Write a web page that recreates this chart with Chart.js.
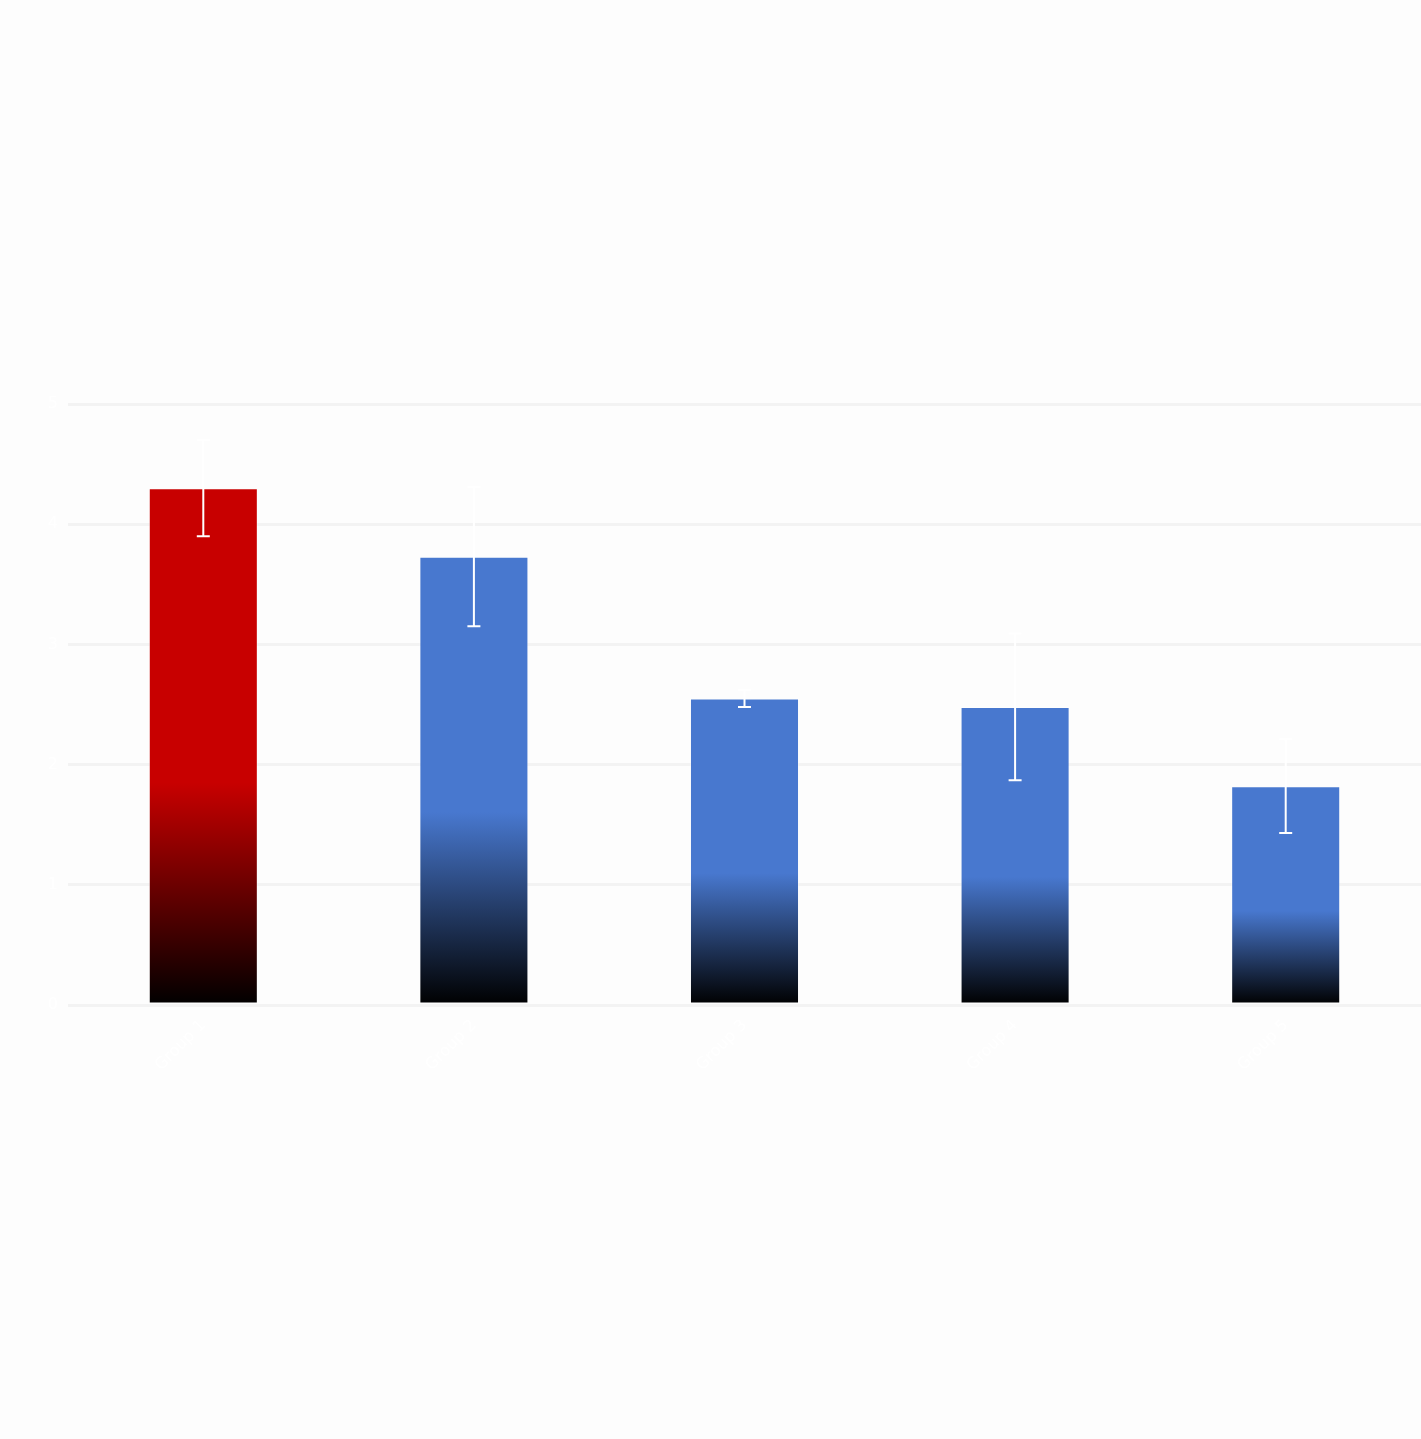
<!DOCTYPE html>
<html>
<head>
<meta charset="utf-8">
<script src="https://cdn.jsdelivr.net/npm/chart.js@4/dist/chart.umd.min.js"></script>
<style>
  html, body { margin: 0; padding: 0; background: #fdfdfd; }
  #wrap { width: 1421px; height: 1439px; }
</style>
</head>
<body>
<div id="wrap"><canvas id="c" width="1421" height="1439"></canvas></div>
<script>
const categories = ["Group 1", "Group 2", "Group 3", "Group 4", "Group 5"];
const values = [4.30, 3.73, 2.55, 2.48, 1.82];
const errors = [0.40, 0.58, 0.07, 0.61, 0.39];
const barColors = ["#c80000", "#4878cf", "#4878cf", "#4878cf", "#4878cf"];
const yTicks = [0, 1, 2, 3, 4, 5];

function gradFor(ctx) {
  const chart = ctx.chart;
  const i = ctx.dataIndex;
  const base = barColors[i];
  if (!chart.chartArea || !chart.scales.y || i === undefined) return base;
  const y = chart.scales.y;
  const bottom = y.getPixelForValue(0);
  const top = y.getPixelForValue(values[i]);
  const stopY = bottom - (bottom - top) * 0.43;
  const g = chart.ctx.createLinearGradient(0, bottom, 0, stopY);
  g.addColorStop(0, "#000000");
  g.addColorStop(1, base);
  return g;
}

const errorBars = {
  id: "errorBars",
  afterDatasetsDraw(chart) {
    const meta = chart.getDatasetMeta(0);
    const y = chart.scales.y;
    const c = chart.ctx;
    c.save();
    c.strokeStyle = "#ffffff";
    c.lineWidth = 2;
    meta.data.forEach((bar, i) => {
      const yHi = y.getPixelForValue(values[i] + errors[i]);
      const yLo = y.getPixelForValue(values[i] - errors[i]);
      const x = bar.x;
      c.beginPath();
      c.moveTo(x, yHi); c.lineTo(x, yLo);
      c.moveTo(x - 6.5, yHi); c.lineTo(x + 6.5, yHi);
      c.moveTo(x - 6.5, yLo); c.lineTo(x + 6.5, yLo);
      c.stroke();
    });
    c.restore();
  }
};

new Chart(document.getElementById("c"), {
  type: "bar",
  data: {
    labels: categories,
    datasets: [{
      data: values,
      backgroundColor: gradFor,
      borderColor: "rgba(255,255,255,0.45)",
      borderWidth: 1,
      borderSkipped: false,
      barPercentage: 0.806,
      categoryPercentage: 0.5
    }]
  },
  options: {
    responsive: false,
    animation: false,
    devicePixelRatio: 1,
    layout: { padding: { top: 404, right: 0, left: 0, bottom: 0 } },
    plugins: { legend: { display: false }, tooltip: { enabled: false } },
    scales: {
      x: {
        grid: { display: false },
        border: { display: false },
        ticks: { color: "#ffffff", maxRotation: 45, minRotation: 45, font: { size: 16, family: "DejaVu Sans" } },
        afterFit(s) { s.height = 434; }
      },
      y: {
        min: 0, max: 5,
        afterBuildTicks(s) { s.ticks = yTicks.map(v => ({ value: v })); },
        grid: { color: "#f3f3f3", lineWidth: 3, drawTicks: false },
        border: { display: false },
        ticks: { color: "#ffffff", padding: 10, font: { size: 16, family: "DejaVu Sans" } },
        afterFit(s) { s.width = 68; }
      }
    }
  },
  plugins: [errorBars]
});
</script>
</body>
</html>
